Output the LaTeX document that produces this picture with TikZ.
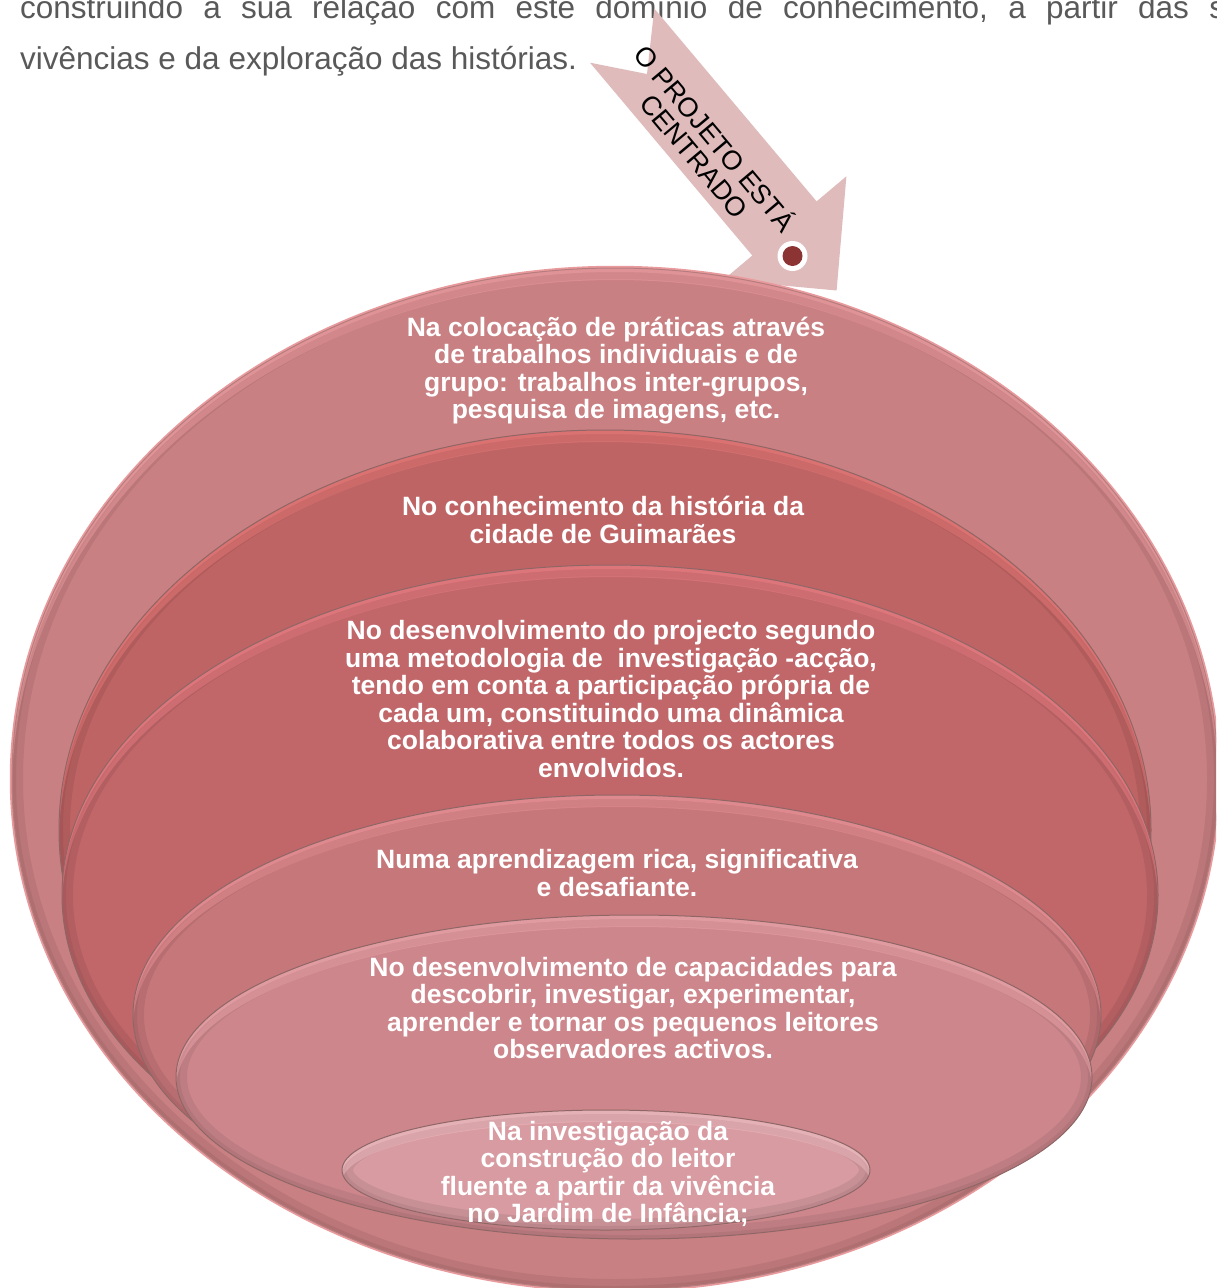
\documentclass[tikz,border=0pt]{standalone}
\usepackage{fontspec}
\setmainfont{Liberation Sans}
\definecolor{paragray}{HTML}{595959}
\definecolor{arrowc}{HTML}{E0BBBB}
\definecolor{dotc}{HTML}{8C3434}
\definecolor{rimc}{HTML}{8F6666}
\definecolor{glowc}{HTML}{E99A9C}
\definecolor{baseA}{HTML}{C98082}\definecolor{hlA}{HTML}{F0A0A4}
\definecolor{baseB}{HTML}{BF6464}\definecolor{hlB}{HTML}{EE7C7C}
\definecolor{baseC}{HTML}{C1676A}\definecolor{hlC}{HTML}{EE8086}
\definecolor{baseD}{HTML}{C6777A}\definecolor{hlD}{HTML}{EE9599}
\definecolor{baseE}{HTML}{CD878C}\definecolor{hlE}{HTML}{F0A8AE}
\definecolor{baseF}{HTML}{D79BA1}\definecolor{hlF}{HTML}{F2C0C5}
\newcommand\ringdisc[7]{%
  \fill[#5] (#1,#2) ellipse [x radius=#3pt, y radius=#4pt];
  \begin{scope}
    \clip (#1,#2) ellipse [x radius=#3pt, y radius=#4pt];
    \draw[black, opacity=.07, line width=22pt] (#1,#2) ellipse [x radius=#3pt, y radius=#4pt];
    \draw[black, opacity=.06, line width=8pt] (#1,#2) ellipse [x radius=#3pt, y radius=#4pt];
    \fill[#6, opacity=.45, even odd rule] (#1,#2) ellipse [x radius=#3pt, y radius=#4pt] (#1,#2+12) ellipse [x radius=#3pt, y radius=#4pt];
    \fill[#6, opacity=.55, even odd rule] (#1,#2) ellipse [x radius=#3pt, y radius=#4pt] (#1,#2+4) ellipse [x radius=#3pt, y radius=#4pt];
  \end{scope}
  \draw[#7, line width=1pt] (#1,#2) ellipse [x radius=#3pt, y radius=#4pt];
}
\begin{document}
\begin{tikzpicture}[x=1pt,y=-1pt,
  lbl/.style={text=white,font=\fontsize{26.5}{27.5}\selectfont\bfseries,align=center,inner sep=0pt},
  para/.style={text=paragray,font=\fontsize{31.5}{37}\selectfont,inner sep=0pt,anchor=base west},
  arrowtext/.style={text=black,font=\fontsize{27}{27}\selectfont,align=center,inner sep=0pt,rotate=-50}]
\useasboundingbox (0,0) rectangle (1216,1288);
\clip (0,0) rectangle (1216,1288);
\fill[white] (0,0) rectangle (1216,1288);

% paragraph text above the diagram
\node[para] (p1) at (20,18) {\hbox to 1205pt{construindo\hfill a\hfill sua\hfill relação\hfill com\hfill este\hfill domínio\hfill de\hfill conhecimento,\hfill a\hfill partir\hfill das\hfill s}};
\node[para] (p2) at (20,69) {vivências e da exploração das histórias.};

% notched arrow
\fill[arrowc] (654.3,8.6) -- (816.6,201.4) -- (846.4,176.3) -- (836.6,290.5)
  -- (723.2,280) -- (752.3,255.5) -- (590,62.7) -- (647,74) -- cycle;
\node[arrowtext] (arrowlbl) at (706,146) {O PROJETO ESTÁ\\CENTRADO};
\fill[white] (792.5,256) circle [radius=15pt];
\fill[dotc] (792.5,256) circle [radius=10pt];

% stacked ellipses
\draw[glowc, line width=2.5pt] (615,779) ellipse [x radius=604pt, y radius=512pt];
\ringdisc{615}{779}{603}{511}{baseA}{hlA}{rimc!60!hlA}
\ringdisc{605}{830}{546}{400}{baseB}{hlB}{rimc}
\ringdisc{610}{895}{548}{330}{baseC}{hlC}{rimc}
\ringdisc{617}{1015}{484}{220}{baseD}{hlD}{rimc}
\ringdisc{634}{1077}{458}{162}{baseE}{hlE}{rimc}
\ringdisc{606}{1170}{264}{60}{baseF}{hlF}{rimc}

% labels
\node[lbl] (t1) at (616,370.5) {Na colocação de práticas através\\de trabalhos individuais e de\\grupo: trabalhos inter-grupos,\\pesquisa de imagens, etc.};
\node[lbl] (t2) at (603,520) {No conhecimento da história da\\cidade de Guimarães};
\node[lbl] (t3) at (611,699) {No desenvolvimento do projecto segundo\\uma metodologia de \ investigação -acção,\\tendo em conta a participação própria de\\cada um, constituindo uma dinâmica\\colaborativa entre todos os actores\\envolvidos.};
\node[lbl] (t4) at (617,873) {Numa aprendizagem rica, significativa\\e desafiante.};
\node[lbl] (t5) at (633,1008) {No desenvolvimento de capacidades para\\descobrir, investigar, experimentar,\\aprender e tornar os pequenos leitores\\observadores activos.};
\node[lbl] (t6) at (608,1174) {Na investigação da\\construção do leitor\\fluente a partir da vivência\\no Jardim de Infância;};
\end{tikzpicture}
\end{document}
